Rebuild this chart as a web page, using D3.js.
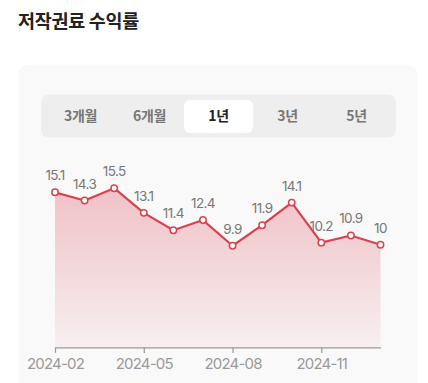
<!DOCTYPE html>
<html><head><meta charset="utf-8">
<script src="https://cdn.jsdelivr.net/npm/d3@7"></script>
<style>
html,body{margin:0;padding:0;background:#fff;width:428px;height:383px;overflow:hidden;}
svg{display:block;}
</style></head>
<body>
<svg id="c" width="428" height="383"></svg>
<script>
const title = "저작권료 수익률";
const tabs = ["3개월","6개월","1년","3년","5년"];
const selectedTab = "1년";
const months = ["2024-02","2024-03","2024-04","2024-05","2024-06","2024-07","2024-08","2024-09","2024-10","2024-11","2024-12","2025-01"];
const values = [15.1,14.3,15.5,13.1,11.4,12.4,9.9,11.9,14.1,10.2,10.9,10];
const tickLabels = ["2024-02","2024-05","2024-08","2024-11"];

const svg = d3.select("#c");
const font = "Inter, 'Noto Sans CJK KR', sans-serif";

// title
svg.append("text").attr("x",18).attr("y",28)
  .attr("font-family","'Noto Sans CJK KR', sans-serif").attr("font-weight",700)
  .attr("font-size",18.5).attr("fill","#222").attr("letter-spacing",-0.3).text(title);

// card
svg.append("rect").attr("x",18).attr("y",65).attr("width",399.5).attr("height",340)
  .attr("rx",10).attr("fill","#f9f9f9");

// tabs
const tabX0 = 41, tabW = 355, tabY = 94.5, tabH = 43;
svg.append("rect").attr("x",tabX0).attr("y",tabY).attr("width",tabW).attr("height",tabH)
  .attr("rx",8).attr("fill","#eeeeee");
const tabScale = d3.scaleBand().domain(tabs).range([tabX0+5, tabX0+tabW-5]);
const tg = svg.append("g");
tg.selectAll("rect.sel").data(tabs.filter(t=>t===selectedTab)).join("rect")
  .attr("x",d=>tabScale(d)).attr("y",100).attr("width",tabScale.bandwidth()).attr("height",33)
  .attr("rx",6).attr("fill","#fff");
tg.selectAll("text").data(tabs).join("text")
  .attr("x",d=>tabScale(d)+tabScale.bandwidth()/2).attr("y",121)
  .attr("text-anchor","middle").attr("font-family","'Noto Sans CJK KR', sans-serif")
  .attr("font-weight",700).attr("font-size",14).attr("letter-spacing",-0.3)
  .attr("fill",d=>d===selectedTab?"#222":"#777").text(d=>d);

// chart
const x = d3.scalePoint().domain(months).range([55, 380.5]);
const y = d3.scaleLinear().domain([0, 20]).range([347.4, 142]);

const defs = svg.append("defs");
const grad = defs.append("linearGradient").attr("id","ag")
  .attr("gradientUnits","userSpaceOnUse").attr("x1",0).attr("y1",y(15.5)).attr("x2",0).attr("y2",y(0));
grad.append("stop").attr("offset",0).attr("stop-color","#dc5060").attr("stop-opacity",0.33);
grad.append("stop").attr("offset",1).attr("stop-color","#dc5060").attr("stop-opacity",0.06);

const data = months.map((m,i)=>({m, v:values[i]}));
svg.append("path").datum(data)
  .attr("d", d3.area().x(d=>x(d.m)).y0(y(0)).y1(d=>y(d.v)))
  .attr("fill","url(#ag)");
svg.append("path").datum(data)
  .attr("d", d3.line().x(d=>x(d.m)).y(d=>y(d.v)))
  .attr("fill","none").attr("stroke","#d9434f").attr("stroke-width",2.2).attr("stroke-linejoin","round");
svg.selectAll("circle.pt").data(data).join("circle")
  .attr("cx",d=>x(d.m)).attr("cy",d=>y(d.v)).attr("r",3.2)
  .attr("fill","#fff").attr("stroke","#d9434f").attr("stroke-width",1.5);
svg.selectAll("text.vl").data(data).join("text").attr("class","vl")
  .attr("x",d=>x(d.m)).attr("y",d=>y(d.v)-12)
  .attr("text-anchor","middle").attr("font-family",font).attr("font-size",13.5)
  .attr("letter-spacing",-0.6).attr("fill","#777").text(d=>d3.format("")(d.v));

// x axis
const axis = d3.axisBottom(x).tickValues(tickLabels).tickSize(5.5).tickSizeOuter(0);
const ag = svg.append("g").attr("transform",`translate(0,${y(0)})`).call(axis);
ag.select(".domain").attr("stroke","#999").attr("stroke-width",1.2);
ag.selectAll(".tick line").attr("stroke","#999").attr("stroke-width",1.2);
ag.selectAll(".tick text").attr("font-family",font).attr("font-size",15)
  .attr("letter-spacing",-0.8).attr("fill","#999").attr("y",10.5).attr("dy","0.71em");
</script>
</body></html>
